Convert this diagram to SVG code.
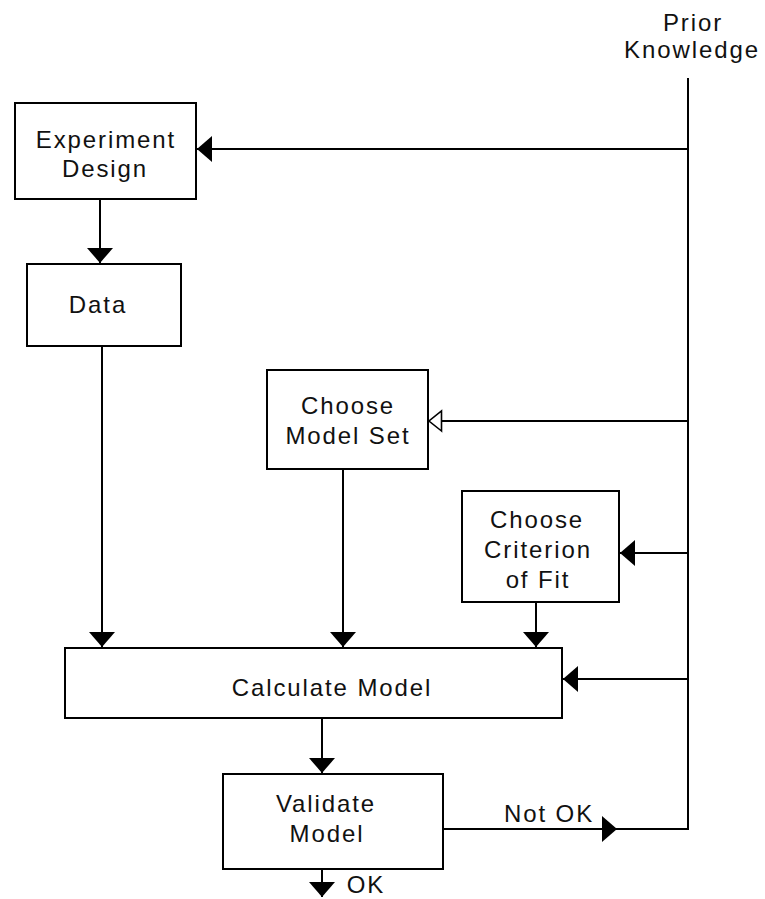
<svg xmlns="http://www.w3.org/2000/svg" width="765" height="899" viewBox="0 0 765 899">
<style>
.box{fill:#fff;stroke:#000;stroke-width:2}
.ln{fill:none;stroke:#000;stroke-width:2}
.t{font-family:"Liberation Sans",Arial,sans-serif;font-size:24px;letter-spacing:1.9px;fill:#111;text-anchor:middle}
</style>
<defs>
<marker id="ah" viewBox="0 0 15 26" refX="15" refY="13" markerWidth="15" markerHeight="26" markerUnits="userSpaceOnUse" orient="auto">
<path d="M0,0 L15,13 L0,26 Z" fill="#000"/>
</marker>
<marker id="ahh" viewBox="0 0 15 24" refX="14" refY="12" markerWidth="15" markerHeight="24" markerUnits="userSpaceOnUse" orient="auto">
<path d="M1.5,2 L14,12 L1.5,22 Z" fill="#fff" stroke="#000" stroke-width="1.6"/>
</marker>
</defs>
<rect width="765" height="899" fill="#fff"/>
<g id="connectors">
<path class="ln" d="M688,78 V829 H610"/>
<path class="ln" d="M688,149 H197" marker-end="url(#ah)"/>
<path class="ln" d="M100,199 V263" marker-end="url(#ah)"/>
<path class="ln" d="M102,346 V647" marker-end="url(#ah)"/>
<path class="ln" d="M343,469 V647" marker-end="url(#ah)"/>
<path class="ln" d="M536,602 V647" marker-end="url(#ah)"/>
<path class="ln" d="M688,421 H429" marker-end="url(#ahh)"/>
<path class="ln" d="M688,553 H620" marker-end="url(#ah)"/>
<path class="ln" d="M688,679 H563" marker-end="url(#ah)"/>
<path class="ln" d="M322,718 V773" marker-end="url(#ah)"/>
<path class="ln" d="M443,829 H617" marker-end="url(#ah)"/>
<path class="ln" d="M322,869 V897" marker-end="url(#ah)"/>
</g>
<g id="prior-knowledge">
<text class="t" x="693" y="31">Prior</text>
<text class="t" x="692" y="58">Knowledge</text>
</g>
<g id="experiment-design">
<rect class="box" x="15" y="103" width="181" height="96"/>
<text class="t" x="106" y="148">Experiment</text>
<text class="t" x="105" y="177">Design</text>
</g>
<g id="data">
<rect class="box" x="27" y="264" width="154" height="82"/>
<text class="t" x="98" y="313">Data</text>
</g>
<g id="choose-model-set">
<rect class="box" x="267" y="370" width="161" height="99"/>
<text class="t" x="348" y="414">Choose</text>
<text class="t" x="348" y="444">Model Set</text>
</g>
<g id="choose-criterion">
<rect class="box" x="462" y="491" width="157" height="111"/>
<text class="t" x="537" y="528">Choose</text>
<text class="t" x="538" y="558">Criterion</text>
<text class="t" x="538" y="588">of Fit</text>
</g>
<g id="calculate-model">
<rect class="box" x="65" y="648" width="497" height="70"/>
<text class="t" x="332" y="696">Calculate Model</text>
</g>
<g id="validate-model">
<rect class="box" x="223" y="774" width="220" height="95"/>
<text class="t" x="326" y="812">Validate</text>
<text class="t" x="327" y="842">Model</text>
</g>
<g id="labels">
<text class="t" x="549" y="822">Not OK</text>
<text class="t" x="366" y="893">OK</text>
</g>
</svg>
